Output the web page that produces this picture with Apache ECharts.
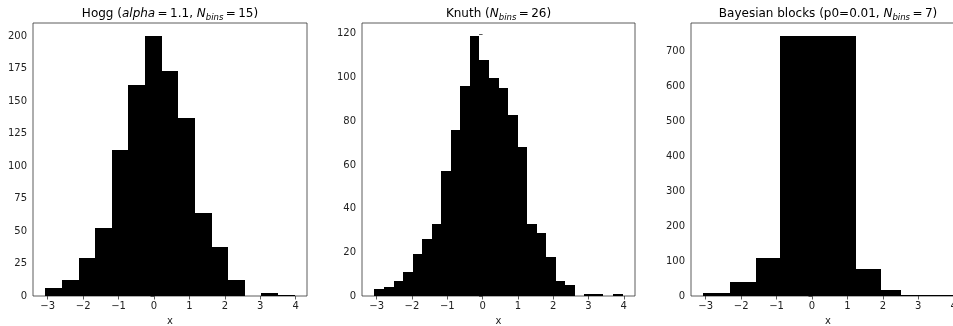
<!DOCTYPE html>
<html>
<head>
<meta charset="utf-8">
<script src="https://cdn.jsdelivr.net/npm/echarts@6/dist/echarts.min.js"></script>
<style>
html,body{margin:0;padding:0;background:#fff;}
#chart{width:953px;height:326px;}
</style>
</head>
<body>
<div id="chart"></div>
<script>
// Bin edges and counts
var hoggEdges = [-3.064, -2.595, -2.127, -1.658, -1.189, -0.721, -0.252, 0.217, 0.685, 1.154, 1.623, 2.091, 2.560, 3.029, 3.497, 3.966];
var hoggCounts = [6, 12, 29, 52, 112, 162, 200, 173, 137, 64, 38, 12, 0, 2, 1];

var knuthEdges = [-3.064, -2.794, -2.523, -2.253, -1.982, -1.712, -1.442, -1.171, -0.901, -0.630, -0.360, -0.090, 0.181, 0.451, 0.721, 0.992, 1.262, 1.533, 1.803, 2.073, 2.344, 2.614, 2.884, 3.155, 3.425, 3.696, 3.966];
var knuthCounts = [3, 4, 7, 11, 19, 26, 33, 57, 76, 96, 119, 108, 100, 95, 83, 68, 33, 29, 18, 7, 5, 0, 1, 1, 0, 1];

var bbEdges = [-3.064, -2.31, -1.57, -0.90, 1.237, 1.94, 2.51, 3.966];
var bbCounts = [10, 41, 108, 745, 77, 16, 3];

var xTicks = [-3, -2, -1, 0, 1, 2, 3, 4];
var hoggYTicks = [0, 25, 50, 75, 100, 125, 150, 175, 200];
var knuthYTicks = [0, 20, 40, 60, 80, 100, 120];
var bbYTicks = [0, 100, 200, 300, 400, 500, 600, 700];

var xMin = -3.416, xMax = 4.318;
var hoggYMax = 210, knuthYMax = 124.95, bbYMax = 782.25;

function toData(edges, counts) {
  return counts.map(function (c, i) { return [edges[i], edges[i + 1], c]; });
}

var FONT = 'DejaVu Sans';
var AX = '#333';

function fmt(v) { return v < 0 ? '\u2212' + Math.abs(v) : String(v); }

var grids = [
  {left: 33, top: 23, width: 274, height: 273},
  {left: 362, top: 23, width: 273, height: 273},
  {left: 691, top: 23, width: 274, height: 273}
];

function xAxis(i) {
  return {
    type: 'value', gridIndex: i, min: xMin, max: xMax,
    name: 'x', nameLocation: 'middle', nameGap: 20,
    nameTextStyle: {fontFamily: FONT, fontSize: 10, color: '#222'},
    axisLine: {show: false},
    splitLine: {show: false},
    axisTick: {show: true, inside: false, length: 3.5, customValues: xTicks, lineStyle: {color: AX, width: 0.8}},
    axisLabel: {customValues: xTicks, formatter: fmt, margin: 5, fontFamily: FONT, fontSize: 10, color: '#222'}
  };
}
function yAxis(i, max, ticks) {
  return {
    type: 'value', gridIndex: i, min: 0, max: max,
    interval: ticks[1] - ticks[0],
    axisLine: {show: false},
    splitLine: {show: false},
    axisTick: {show: true, inside: false, length: 3.5, lineStyle: {color: AX, width: 0.8}},
    axisLabel: {showMaxLabel: false, formatter: fmt, margin: 6, fontFamily: FONT, fontSize: 10, color: '#222'}
  };
}

function renderItem(params, api) {
  var p0 = api.coord([api.value(0), 0]);
  var p1 = api.coord([api.value(1), api.value(2)]);
  var xl = Math.round(p0[0]), xr = Math.round(p1[0]);
  var yb = Math.round(p0[1]), yt = Math.round(p1[1]);
  return {
    type: 'rect',
    shape: {x: xl, y: yt, width: xr - xl, height: yb - yt},
    style: {fill: '#000'}
  };
}

function series(i, edges, counts) {
  return {
    type: 'custom', xAxisIndex: i, yAxisIndex: i,
    renderItem: renderItem, clip: true,
    encode: {x: [0, 1], y: 2},
    data: toData(edges, counts)
  };
}

var rich = {
  n: {fontFamily: FONT, fontSize: 12, fill: '#000', lineHeight: 16},
  i: {fontFamily: FONT, fontSize: 12, fontStyle: 'italic', fill: '#000', lineHeight: 16},
  s: {fontFamily: FONT, fontSize: 8.5, fontStyle: 'italic', fill: '#000', lineHeight: 10, verticalAlign: 'bottom'}
};

function titleText(cx, text) {
  return {
    type: 'text', x: cx, y: 6, silent: true,
    style: {text: text, rich: rich, align: 'center', verticalAlign: 'top', fontFamily: FONT, fontSize: 12, fill: '#000'}
  };
}

var chart = echarts.init(document.getElementById('chart'), null, {renderer: 'canvas'});
chart.setOption({
  animation: false,
  backgroundColor: '#fff',
  graphic: [
    titleText(170, '{n|Hogg (}{i|alpha}{n|\u2009=\u20091.1, }{i|N}{s|bins}{n|\u2009=\u200915)}'),
    titleText(498.5, '{n|Knuth (}{i|N}{s|bins}{n|\u2009=\u200926)}'),
    titleText(828, '{n|Bayesian blocks (p0=0.01, }{i|N}{s|bins}{n|\u2009=\u20097)}')
  ],
  grid: grids.map(function (g) {
    return Object.assign({show: true, borderColor: AX, borderWidth: 0.8, backgroundColor: 'transparent', outerBoundsMode: 'none', containLabel: false}, g);
  }),
  xAxis: [xAxis(0), xAxis(1), xAxis(2)],
  yAxis: [yAxis(0, hoggYMax, hoggYTicks), yAxis(1, knuthYMax, knuthYTicks), yAxis(2, bbYMax, bbYTicks)],
  series: [series(0, hoggEdges, hoggCounts), series(1, knuthEdges, knuthCounts), series(2, bbEdges, bbCounts)]
});
</script>
</body>
</html>
